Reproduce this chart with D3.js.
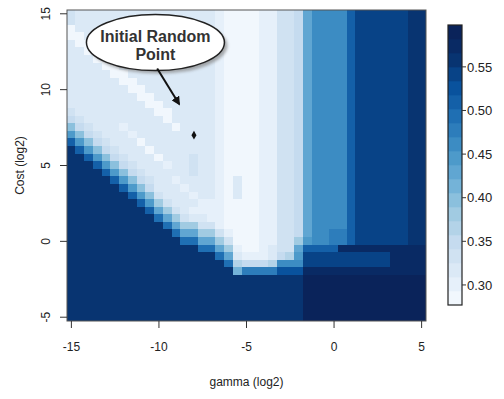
<!DOCTYPE html>
<html>
<head>
<meta charset="utf-8">
<script src="https://cdnjs.cloudflare.com/ajax/libs/d3/7.8.5/d3.min.js"></script>
<style>
  body { margin: 0; background: #fff; }
  text { font-family: "Liberation Sans", Arial, sans-serif; fill: #222; }
</style>
</head>
<body>
<div id="chart-container"></div>
<script>
// Grid axes (log2 values)
const gammaValues = [-15, -14.5, -14, -13.5, -13, -12.5, -12, -11.5, -11, -10.5, -10,
  -9.5, -9, -8.5, -8, -7.5, -7, -6.5, -6, -5.5, -5, -4.5, -4, -3.5, -3, -2.5, -2,
  -1.5, -1, -0.5, 0, 0.5, 1, 1.5, 2, 2.5, 3, 3.5, 4, 4.5, 5];
const costValues = [15, 14.5, 14, 13.5, 13, 12.5, 12, 11.5, 11, 10.5, 10, 9.5, 9,
  8.5, 8, 7.5, 7, 6.5, 6, 5.5, 5, 4.5, 4, 3.5, 3, 2.5, 2, 1.5, 1, 0.5, 0, -0.5,
  -1, -1.5, -2, -2.5, -3, -3.5, -4, -4.5, -5];

// each char = colour band of a cell (0 = lightest, j = darkest), one row per cost value
const bandCodes = "0123456789abcdefghij";
const costRows = [
  "32222222222222222|10000113349bbbbegggggghh",
  "32222222222222222|10000113349bbbbegggggghh",
  "02222222222222222|10000113349bbbbegggggghh",
  "00222222222222222|10000113349bbbbegggggghh",
  "20022222222222222|10000113349bbbbegggggghh",
  "22002222222222222|10000113349bbbbegggggghh",
  "22200222222222222|10000113349bbbbegggggghh",
  "22220022222222222|10000113349bbbbegggggghh",
  "22222002222222222|10000113349bbbbegggggghh",
  "22222200222222222|10000113349bbbbegggggghh",
  "22222220022222222|10000113349bbbbegggggghh",
  "22222222002222222|10000113349bbbbegggggghh",
  "22222222200222222|10000113349bbbbegggggghh",
  "32222222220022222|10000113349bbbbegggggghh",
  "43222222222022222|10000113349bbbbegggggghh",
  "74322212222202222|10000113349bbbbegggggghh",
  "a7432221222222222|10000113349bbbbegggggghh",
  "ea743222022222222|10000113349bbbbegggggghh",
  "hea74322202222222|10000113349bbbbegggggghh",
  "hhea7432220222322|10000113349bbbbegggggghh",
  "hhhea743222122322|10000113349bbbbegggggghh",
  "hhhhea74322222322|10000113349bbbbegggggghh",
  "hhhhhea7432212222|10200113349bbbbegggggghh",
  "hhhhhhea742221222|10200113349bbbbegggggghh",
  "hhhhhhhea73222122|10200113349bbbbegggggghh",
  "hhhhhhhhea6322211|10000113349bbbbegggggghh",
  "hhhhhhhhhe9632111|10000113349bbbbegggggghh",
  "hhhhhhhhhhd963221|10000113349bbbbegggggghh",
  "hhhhhhhhhhhd96633|10000113349bbbbegggggghh",
  "hhhhhhhhhhhhd9966|31000113349bbccegggggghh",
  "hhhhhhhhhhhhhdd99|6300011336abbccegggggghh",
  "hhhhhhhhhhhhhhhdd|9610012339eeeeiiiiiiiiii",
  "hhhhhhhhhhhhhhhhh|d92111245aggggggggggiiii",
  "hhhhhhhhhhhhhhhhh|hd54445bbbggggggggggiiii",
  "hhhhhhhhhhhhhhhhh|hh8ccccfffiiiiiiiiiiiiii",
  "hhhhhhhhhhhhhhhhh|hhhhhhhhhhjjjjjjjjjjjjjj",
  "hhhhhhhhhhhhhhhhh|hhhhhhhhhhjjjjjjjjjjjjjj",
  "hhhhhhhhhhhhhhhhh|hhhhhhhhhhjjjjjjjjjjjjjj",
  "hhhhhhhhhhhhhhhhh|hhhhhhhhhhjjjjjjjjjjjjjj",
  "hhhhhhhhhhhhhhhhh|hhhhhhhhhhjjjjjjjjjjjjjj",
  "hhhhhhhhhhhhhhhhh|hhhhhhhhhhjjjjjjjjjjjjjj"
];

const keyRange = [0.277, 0.598];
const keyTicks = [0.30, 0.35, 0.40, 0.45, 0.50, 0.55];
const xTicks = [-15, -10, -5, 0, 5];
const yTicks = [-5, 0, 5, 10, 15];
const startPoint = [{ gamma: -8, cost: 7 }];
const noteLines = ["Initial Random", "Point"];
const noteAt = { gamma: -10.2, cost: 13.1 };
const arrowFrom = { gamma: -10.1, cost: 11.4 };
const arrowTo = { gamma: -8.85, cost: 9.05 };

const stops = ["#f7fbff", "#deebf7", "#c6dbef", "#9ecae1", "#6baed6", "#4292c6",
  "#2171b5", "#08519c", "#08306b", "#0a1f55"];

// Set dimensions and margins
const margin = { top: 10, right: 78, bottom: 78, left: 67 };
const width = 504 - margin.left - margin.right;
const height = 399 - margin.top - margin.bottom;

const x = d3.scaleLinear().domain([-15.25, 5.25]).range([0, width]);
const y = d3.scaleLinear().domain([-5.25, 15.25]).range([height, 0]);

const nBands = bandCodes.length;
const step = (keyRange[1] - keyRange[0]) / nBands;
const ramp = d3.piecewise(d3.interpolateRgb, stops);
const palette = d3.range(nBands).map(k => ramp((k + 0.5) / nBands));
const color = d3.scaleQuantize().domain(keyRange).range(palette);

// cells from the coded rows
const cells = [];
costRows.forEach((row, r) => {
  const codes = row.replace("|", "");
  if (codes.length !== gammaValues.length) console.warn("row", r, codes.length);
  gammaValues.forEach((g, c) => {
    const k = bandCodes.indexOf(codes[c]);
    cells.push({ gamma: g, cost: costValues[r], value: keyRange[0] + (k + 0.5) * step });
  });
});

const svg = d3.select("#chart-container")
  .append("svg")
    .attr("width", 504)
    .attr("height", 399);

const defs = svg.append("defs");
defs.append("filter").attr("id", "soft")
  .append("feGaussianBlur").attr("stdDeviation", 1.6);
defs.append("marker")
    .attr("id", "head")
    .attr("viewBox", "0 0 10 10")
    .attr("refX", 8).attr("refY", 5)
    .attr("markerWidth", 4.5).attr("markerHeight", 4.5)
    .attr("orient", "auto")
  .append("path")
    .attr("d", "M0,0L10,5L0,10z")
    .attr("fill", "#111");

const g = svg.append("g")
    .attr("transform", `translate(${margin.left},${margin.top})`);

// heatmap (snap to whole pixels so no seams show)
const x0 = d => Math.floor(x(d.gamma - 0.25));
const y0 = d => Math.floor(y(d.cost + 0.25));
g.selectAll("rect.cell")
  .data(cells)
  .join("rect")
    .attr("class", "cell")
    .attr("shape-rendering", "crispEdges")
    .attr("x", x0)
    .attr("y", y0)
    .attr("width", d => Math.min(width, Math.ceil(x(d.gamma + 0.25))) - x0(d))
    .attr("height", d => Math.min(height, Math.ceil(y(d.cost - 0.25))) - y0(d))
    .attr("fill", d => color(d.value));

g.append("rect")
    .attr("width", width)
    .attr("height", height)
    .attr("fill", "none")
    .attr("stroke", "#555")
    .attr("stroke-width", 1);

// x axis
const xAxis = g.append("g").attr("transform", `translate(0,${height})`);
xAxis.selectAll("line")
  .data(xTicks)
  .join("line")
    .attr("x1", d => x(d)).attr("x2", d => x(d))
    .attr("y1", 0).attr("y2", 7)
    .attr("stroke", "#333");
xAxis.selectAll("text")
  .data(xTicks)
  .join("text")
    .attr("x", d => x(d))
    .attr("y", 30)
    .attr("text-anchor", "middle")
    .style("font-size", "12px")
    .text(d => d);

// y axis, labels parallel to axis like R
const yAxis = g.append("g");
yAxis.selectAll("line")
  .data(yTicks)
  .join("line")
    .attr("x1", -7).attr("x2", 0)
    .attr("y1", d => y(d)).attr("y2", d => y(d))
    .attr("stroke", "#333");
yAxis.selectAll("text")
  .data(yTicks)
  .join("text")
    .attr("transform", d => `translate(-17,${y(d)}) rotate(-90)`)
    .attr("text-anchor", "middle")
    .style("font-size", "12px")
    .text(d => d);

svg.append("text")
    .attr("x", margin.left + width / 2)
    .attr("y", 386)
    .attr("text-anchor", "middle")
    .style("font-size", "12px")
    .text("gamma (log2)");

svg.append("text")
    .attr("transform", `translate(24,${margin.top + height / 2}) rotate(-90)`)
    .attr("text-anchor", "middle")
    .style("font-size", "12px")
    .text("Cost (log2)");

// starting point
g.selectAll("path.pt")
  .data(startPoint)
  .join("path")
    .attr("class", "pt")
    .attr("transform", d => `translate(${x(d.gamma)},${y(d.cost)})`)
    .attr("d", d3.symbol(d3.symbolDiamond, 22))
    .attr("fill", "#111");

// callout
const nx = x(noteAt.gamma), ny = y(noteAt.cost);
g.append("ellipse")
    .attr("cx", nx + 3).attr("cy", ny + 3)
    .attr("rx", 69).attr("ry", 28)
    .attr("fill", "#888")
    .attr("opacity", 0.7)
    .attr("filter", "url(#soft)");
g.append("ellipse")
    .attr("cx", nx).attr("cy", ny)
    .attr("rx", 69).attr("ry", 28)
    .attr("fill", "#fff")
    .attr("stroke", "#222")
    .attr("stroke-width", 1.5);
g.selectAll("text.note")
  .data(noteLines)
  .join("text")
    .attr("class", "note")
    .attr("x", nx)
    .attr("y", (d, i) => ny - 1 + i * 18)
    .attr("text-anchor", "middle")
    .style("font-size", "16px")
    .style("font-weight", "bold")
    .style("fill", "#333")
    .text(d => d);
g.append("line")
    .attr("x1", x(arrowFrom.gamma)).attr("y1", y(arrowFrom.cost))
    .attr("x2", x(arrowTo.gamma)).attr("y2", y(arrowTo.cost))
    .attr("stroke", "#111")
    .attr("stroke-width", 2)
    .attr("marker-end", "url(#head)");

// colour key
const cb = d3.scaleLinear().domain(keyRange).range([305, 25]);
const key = svg.append("g").attr("transform", "translate(448,0)");
key.selectAll("rect")
  .data(palette)
  .join("rect")
    .attr("x", 0)
    .attr("width", 14)
    .attr("y", (d, k) => cb(keyRange[0] + (k + 1) * step))
    .attr("height", (d, k) => cb(keyRange[0] + k * step) - cb(keyRange[0] + (k + 1) * step) + 0.3)
    .attr("fill", d => d);
key.append("rect")
    .attr("y", cb(keyRange[1]))
    .attr("width", 14)
    .attr("height", cb(keyRange[0]) - cb(keyRange[1]))
    .attr("fill", "none")
    .attr("stroke", "#222")
    .attr("stroke-width", 1.2);
key.selectAll("line.tk")
  .data(keyTicks)
  .join("line")
    .attr("class", "tk")
    .attr("x1", 14).attr("x2", 18)
    .attr("y1", d => cb(d)).attr("y2", d => cb(d))
    .attr("stroke", "#333");
key.selectAll("text")
  .data(keyTicks)
  .join("text")
    .attr("x", 19)
    .attr("y", d => cb(d))
    .attr("dy", "0.36em")
    .style("font-size", "13px")
    .text(d => d.toFixed(2));
</script>
</body>
</html>
